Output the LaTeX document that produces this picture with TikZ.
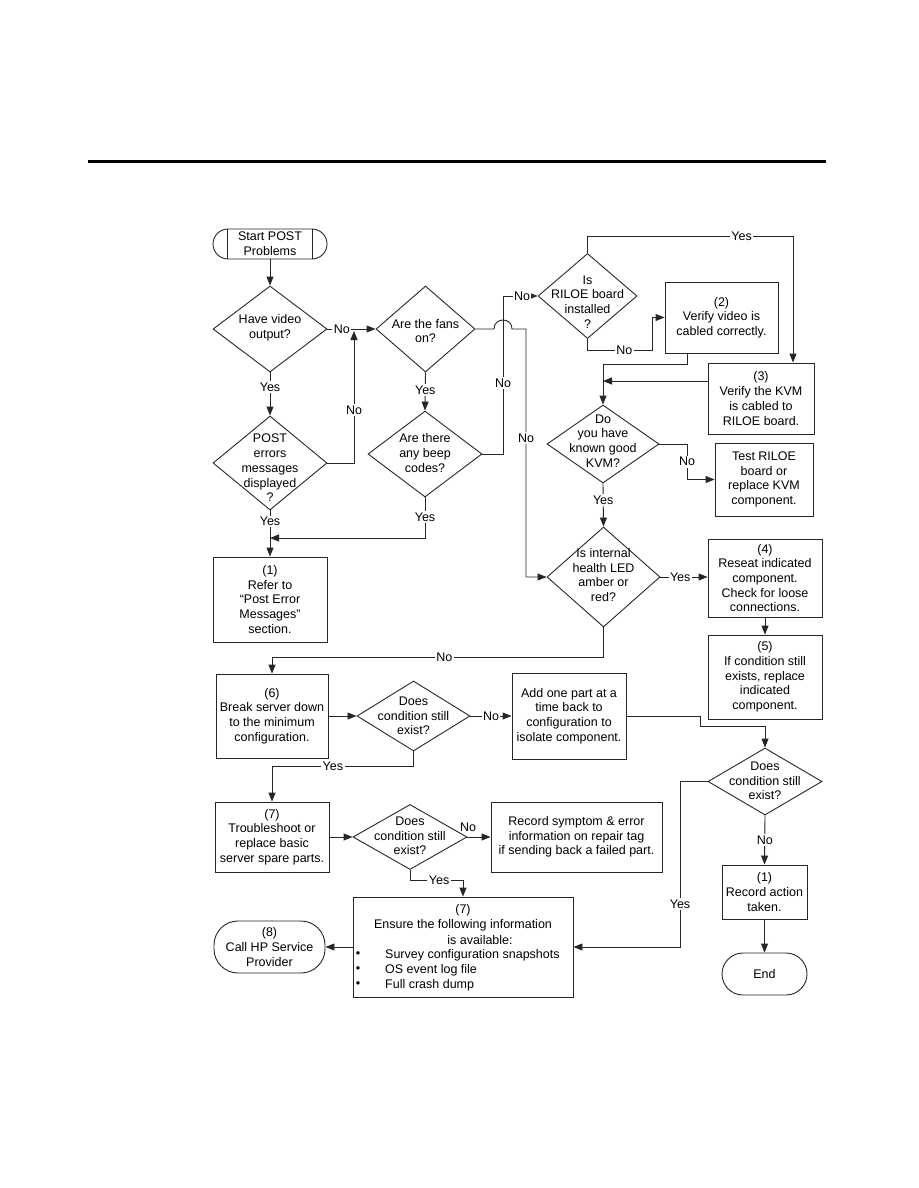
\documentclass[tikz,border=0pt]{standalone}
\usepackage{fontspec}
\setmainfont{Liberation Sans}
\usetikzlibrary{shapes.geometric,arrows.meta,calc}
\begin{document}
\begin{tikzpicture}[x=1pt,y=-1pt,
  every node/.style={font=\fontsize{12.5}{14.7}\selectfont},
  line/.style={line width=0.9pt,draw=black!85},
  arr/.style={line, -{Triangle[length=9pt,width=7pt]}},
  box/.style={draw=black!85, line width=0.9pt, rectangle, inner sep=0pt, align=center},
  dia/.style={draw=black!85, line width=0.9pt, diamond, inner sep=0pt},
  txt/.style={align=center, inner sep=0pt},
  lbl/.style={fill=white, inner sep=1.5pt}
]
\useasboundingbox (0,0) rectangle (918,1188);
\draw[line width=3pt] (88,161) -- (826,161);

% terminals
\node[box, rounded corners=15pt, minimum width=114, minimum height=30] (start) at (270,244) {Start POST\\Problems};
\draw[line] ($(start.north)+(-43,0)$) -- ($(start.south)+(-43,0)$);
\draw[line] ($(start.north)+(42,0)$) -- ($(start.south)+(42,0)$);
\node[box, rounded corners=24pt, minimum width=111, minimum height=52] (call) at (269.5,947) {(8)\\Call HP Service\\Provider};
\node[box, rounded corners=21pt, minimum width=85, minimum height=42] (endn) at (764.5,974) {End};

% diamonds
\node[dia, minimum width=114, minimum height=86] (video) at (270,329) {};
\node[txt] at (270,328) {Have video\\output?};
\node[dia, minimum width=114, minimum height=94] (post) at (270,463) {};
\node[txt] at (270,468) {POST\\errors\\messages\\displayed\\?};
\node[dia, minimum width=99, minimum height=86] (fans) at (425.5,329) {};
\node[txt] at (425.5,331) {Are the fans\\on?};
\node[dia, minimum width=114, minimum height=86] (beep) at (425,454) {};
\node[txt] at (425,453) {Are there\\any beep\\codes?};
\node[dia, minimum width=99, minimum height=85] (riloe) at (587.5,296) {};
\node[txt] at (587.5,302) {Is\\RILOE board\\installed\\?};
\node[dia, minimum width=112, minimum height=78] (kvm) at (603,444) {};
\node[txt] at (603,441) {Do\\you have\\known good\\KVM?};
\node[dia, minimum width=113, minimum height=100] (led) at (603.5,577) {};
\node[txt] at (603.5,575) {Is internal\\health LED\\amber or\\red?};
\node[dia, minimum width=113, minimum height=70] (diaA) at (413.5,716) {};
\node[txt] at (413.5,716) {Does\\condition still\\exist?};
\node[dia, minimum width=114, minimum height=67] (diaB) at (765,781.5) {};
\node[txt] at (765,781) {Does\\condition still\\exist?};
\node[dia, minimum width=114, minimum height=65] (diaC) at (410,837) {};
\node[txt] at (410,836) {Does\\condition still\\exist?};

% boxes
\node[box, minimum width=114, minimum height=85] (box1) at (270,599.5) {(1)\\Refer to\\“Post Error\\Messages”\\section.};
\node[box, minimum width=113, minimum height=71] (box2) at (721.5,317.5) {(2)\\Verify video is\\cabled correctly.};
\node[box, minimum width=106, minimum height=71] (box3) at (761,398.5) {(3)\\Verify the KVM\\is cabled to\\RILOE board.};
\node[box, minimum width=98, minimum height=73] (test) at (764,479.5) {Test RILOE\\board or\\replace KVM\\component.};
\node[box, minimum width=114, minimum height=78] (box4) at (765,578) {(4)\\Reseat indicated\\component.\\Check for loose\\connections.};
\node[box, minimum width=114, minimum height=84] (box5) at (765,677) {(5)\\If condition still\\exists, replace\\indicated\\component.};
\node[box, minimum width=112, minimum height=84] (box6) at (272,716) {(6)\\Break server down\\to the minimum\\configuration.};
\node[box, minimum width=114, minimum height=86] (add) at (569,716) {Add one part at a\\time back to\\configuration to\\isolate component.};
\node[box, minimum width=114, minimum height=70] (box7) at (272,837) {(7)\\Troubleshoot or\\replace basic\\server spare parts.};
\node[box, minimum width=171, minimum height=70] (sym) at (576.5,837) {Record symptom \& error\\information on repair tag\\if sending back a failed part.};
\node[box, minimum width=85, minimum height=54] (rec) at (764.5,892) {(1)\\Record action\\taken.};
\node[box, minimum width=220, minimum height=100] (ens) at (463,947) {};
\node[txt] at (463,910) {(7)};
\node[txt] at (463,925) {Ensure the following information};
\node[txt] at (480,940) {is available:};
\node[txt] at (358,955) {•};
\node[txt] at (358,970) {•};
\node[txt] at (358,985) {•};
\node[txt, anchor=west] at (385,955) {Survey configuration snapshots};
\node[txt, anchor=west] at (385,970) {OS event log file};
\node[txt, anchor=west] at (385,985) {Full crash dump};

% coordinates
\coordinate (j1) at (354,329);
\coordinate (k1) at (603,381);
\coordinate (y1) at (270,538);

% connectors
\draw[arr] (start.south) -- (video.north);
\draw[arr] (video.east) -- node[lbl, pos=0.3] {No} (fans.west);
\draw[arr] (video.south) -- node[lbl, pos=0.34] {Yes} (post.north);
\draw[arr] (post.east) -- (354,463) -- node[lbl, pos=0.4] {No} ($(j1)+(0,2)$);
\draw[arr] (fans.south) -- node[lbl, pos=0.46] {Yes} (beep.north);
\draw[arr] (beep.south) -- node[lbl, pos=0.48] {Yes} (425,538) -- (y1);
\draw[arr] (post.south) -- node[lbl, pos=0.24] {Yes} (box1.north);
\draw[arr] (beep.east) -- (503,454) -- node[lbl, pos=0.45] {No} (503,296) -- node[lbl, pos=0.55] {No} (riloe.west);
\draw[arr] (fans.east) -- (494,329) .. controls (494,317) and (512,317) .. (512,329) -- (526,329) -- node[lbl, pos=0.44] {No} (526,577) -- (led.west);
\draw[arr] (riloe.north) -- (587.5,236) -- node[lbl, pos=0.75] {Yes} (793,236) -- (box3.north -| 793,0);
\draw[arr] (riloe.south) -- (587.5,350) -- node[lbl, pos=0.57] {No} (652,350) -- (652,317.5) -- (box2.west);
\draw[arr] (box2.south -| 687,0) -- (687,364) -- (603,364) -- (kvm.north);
\draw[arr] (box3.west |- k1) -- (k1);
\draw[arr] (kvm.east) -- (687,444) -- node[lbl, pos=0.5] {No} (687,479.5) -- (test.west);
\draw[arr] (kvm.south) -- node[lbl, pos=0.39] {Yes} (led.north);
\draw[arr] (led.east) -- node[lbl, pos=0.42] {Yes} (led.east -| box4.west);
\draw[arr] (box4.south) -- (box5.north);
\draw[arr] (led.south) -- (603.5,657) -- node[lbl, pos=0.48] {No} (272,657) -- (box6.north);
\draw[arr] (box6.east) -- (diaA.west);
\draw[arr] (diaA.east) -- node[lbl, pos=0.5] {No} (add.west);
\draw[arr] (add.east) -- (700,716) -- (700,726) -- (765,726) -- (diaB.north);
\draw[arr] (diaB.west) -- (680,781.5) -- node[lbl, pos=0.74] {Yes} (680,947) -- (ens.east);
\draw[arr] (diaB.south) -- node[lbl, pos=0.5] {No} (rec.north);
\draw[arr] (rec.south) -- (endn.north);
\draw[arr] (diaA.south) -- (413.5,766) -- node[lbl, pos=0.57] {Yes} (272,766) -- (box7.north);
\draw[arr] (box7.east) -- (diaC.west);
\draw[arr] (diaC.east) -- (sym.west);
\node[txt] at (468,827) {No};
\draw[arr] (diaC.south) -- (410,880) -- node[lbl, pos=0.55] {Yes} (463,880) -- (ens.north);
\draw[arr] (ens.west) -- (call.east);
\end{tikzpicture}
\end{document}
